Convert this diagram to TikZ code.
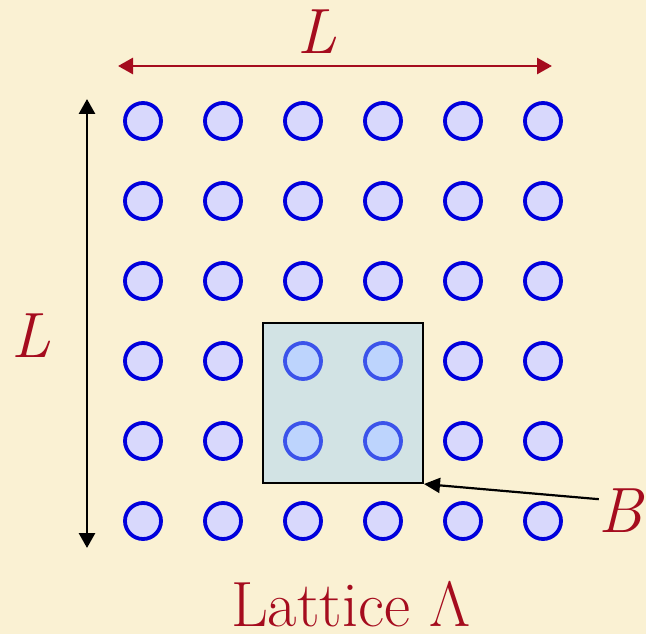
\documentclass[tikz,border=0pt]{standalone}
\usepackage{fontspec}
\usetikzlibrary{arrows.meta}
\definecolor{paper}{RGB}{250,241,211}
\definecolor{labelred}{RGB}{165,12,30}
\definecolor{siteblue}{RGB}{0,0,220}
\definecolor{sitefill}{RGB}{216,216,252}
\definecolor{cellfill}{RGB}{150,208,255}
\begin{document}
\begin{tikzpicture}[x=1pt, y=-1pt,
  every node/.style={font=\fontsize{64}{64}\selectfont},
  site/.style={circle, draw=siteblue, line width=3.8pt, fill=sitefill, minimum size=36pt, inner sep=0pt},
  cell/.style={draw, line width=2pt, fill=cellfill, fill opacity=0.4, minimum size=160pt, inner sep=0pt},
  lbl/.style={text=labelred, inner sep=0pt},
  span/.style={line width=2.8pt, {Triangle[length=15pt,width=16pt]}-{Triangle[length=15pt,width=16pt]}}]
  % paper background
  \fill[paper] (0,0) rectangle (646,634);
  \useasboundingbox (0,0) rectangle (646,634);
  % lattice sites
  \foreach \i in {0,...,5}
    \foreach \j in {0,...,5}
      \node[site] (s\i\j) at ({143+80*\i},{121+80*\j}) {};
  % block B
  \node[cell] (cell) at (343,403) {};
  % side lengths
  \coordinate (t1) at (118,66);
  \coordinate (t2) at (552,66);
  \draw[span, labelred] (t1) -- (t2);
  \node[lbl] (Ltop) at (317,32) {\itshape L};
  \coordinate (v1) at (87,99);
  \coordinate (v2) at (87,548);
  \draw[span] (v1) -- (v2);
  \node[lbl] (Lside) at (31,336) {\itshape L};
  % block label
  \node[lbl] (B) at (621,511) {\itshape B};
  \draw[line width=2.2pt, -{Triangle[length=16pt,width=15pt]}] (B.152) -- (cell.south east);
  \node[lbl, anchor=base] (title) at (351,626) {Lattice Λ};
\end{tikzpicture}
\end{document}
